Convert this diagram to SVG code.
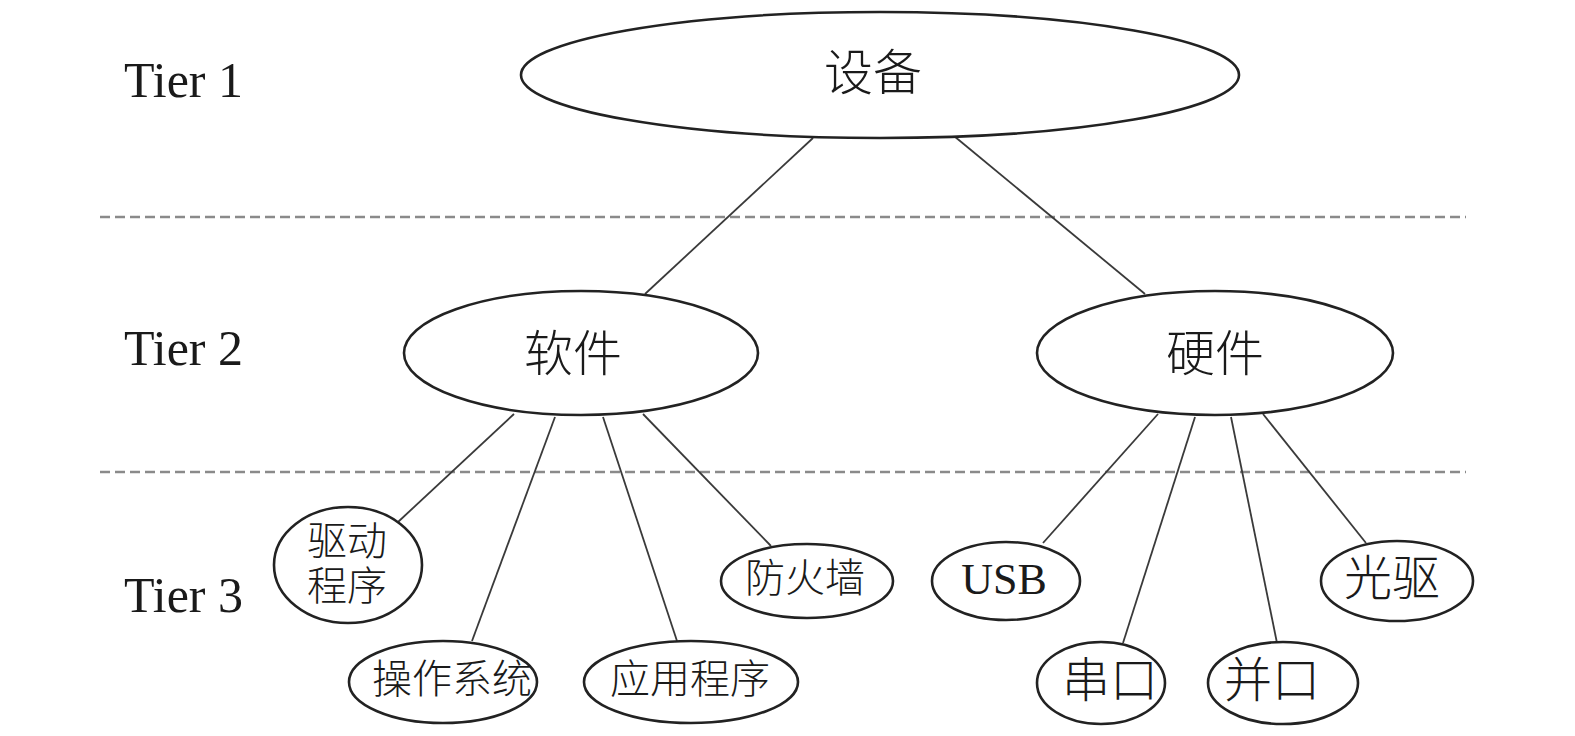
<svg xmlns="http://www.w3.org/2000/svg" width="1575" height="736" viewBox="0 0 1575 736">
<style>
.bg{fill:#ffffff}
.tier{font-family:"Liberation Serif","Times New Roman",serif;font-size:50px;fill:#1a1a1a}
.dash{stroke:#8a8a8a;stroke-width:2.5;stroke-dasharray:10 5;fill:none}
.node{fill:#ffffff;stroke:#222;stroke-width:2.6}
.conn{stroke:#3a3a3a;stroke-width:1.8;fill:none}
.lbl{font-family:"Liberation Serif","Noto Sans CJK SC",serif;fill:#1a1a1a;text-anchor:middle;dominant-baseline:central;font-weight:300}
.l1{font-size:49px}
.l3{font-size:40px}
.l3b{font-size:48px}
.usb{font-size:44px}
</style>
<rect class="bg" x="0" y="0" width="1575" height="736"/>
<g id="tiers">
<text class="tier" x="124" y="97">Tier 1</text>
<text class="tier" x="124" y="365">Tier 2</text>
<text class="tier" x="124" y="612">Tier 3</text>
<line class="dash" x1="100" y1="217" x2="1466" y2="217"/>
<line class="dash" x1="100" y1="472" x2="1466" y2="472"/>
</g>
<g id="connectors">
<line class="conn" x1="813" y1="138" x2="645" y2="294"/>
<line class="conn" x1="954" y1="136" x2="1145" y2="294"/>
<line class="conn" x1="514" y1="414" x2="398" y2="522"/>
<line class="conn" x1="555" y1="417" x2="472" y2="641"/>
<line class="conn" x1="603" y1="417" x2="677" y2="641"/>
<line class="conn" x1="643" y1="414" x2="771" y2="546"/>
<line class="conn" x1="1158" y1="414" x2="1043" y2="543"/>
<line class="conn" x1="1195" y1="417" x2="1123" y2="643"/>
<line class="conn" x1="1231" y1="417" x2="1277" y2="643"/>
<line class="conn" x1="1263" y1="414" x2="1366" y2="543"/>
</g>
<g id="n-device">
<ellipse class="node" cx="880" cy="75" rx="359" ry="63"/>
<text class="lbl l1" x="873" y="73">设备</text>
</g>
<g id="n-software">
<ellipse class="node" cx="581" cy="353" rx="177" ry="62"/>
<text class="lbl l1" x="573" y="354">软件</text>
</g>
<g id="n-hardware">
<ellipse class="node" cx="1215" cy="353" rx="178" ry="62"/>
<text class="lbl l1" x="1215" y="354">硬件</text>
</g>
<g id="n-driver">
<ellipse class="node" cx="348" cy="565" rx="74" ry="58"/>
<text class="lbl l3" x="347" y="541">驱动</text>
<text class="lbl l3" x="347" y="586">程序</text>
</g>
<g id="n-os">
<ellipse class="node" cx="443" cy="682" rx="94" ry="41"/>
<text class="lbl l3" x="452" y="679">操作系统</text>
</g>
<g id="n-app">
<ellipse class="node" cx="691" cy="682" rx="107" ry="41"/>
<text class="lbl l3" x="690" y="679">应用程序</text>
</g>
<g id="n-firewall">
<ellipse class="node" cx="807" cy="581" rx="86" ry="37"/>
<text class="lbl l3" x="805" y="578">防火墙</text>
</g>
<g id="n-usb">
<ellipse class="node" cx="1006" cy="581" rx="74" ry="39"/>
<text class="lbl usb" x="1004" y="579">USB</text>
</g>
<g id="n-serial">
<ellipse class="node" cx="1101" cy="683" rx="64" ry="41"/>
<text class="lbl l3b" x="1110" y="680">串口</text>
</g>
<g id="n-parallel">
<ellipse class="node" cx="1283" cy="683" rx="75" ry="41"/>
<text class="lbl l3b" x="1272" y="680">并口</text>
</g>
<g id="n-optical">
<ellipse class="node" cx="1397" cy="581" rx="76" ry="40"/>
<text class="lbl l3b" x="1392" y="578">光驱</text>
</g>
</svg>
